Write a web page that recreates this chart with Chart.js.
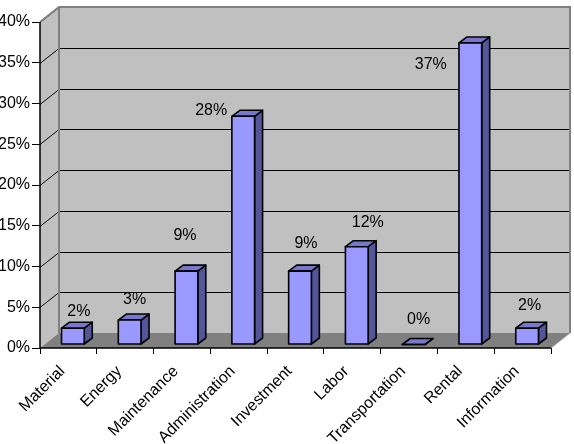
<!DOCTYPE html>
<html>
<head>
<meta charset="utf-8">
<script src="https://cdn.jsdelivr.net/npm/chart.js@4.4.1/dist/chart.umd.min.js"></script>
<style>
  html, body { margin: 0; padding: 0; background: #fff; }
  #wrap { width: 574px; height: 444px; }
</style>
</head>
<body>
<div id="wrap"><canvas id="chart"></canvas></div>
<script>
// chart data
const categories = ['Material', 'Energy', 'Maintenance', 'Administration', 'Investment',
  'Labor', 'Transportation', 'Rental', 'Information'];
const shares = [2, 3, 9, 28, 9, 12, 0, 37, 2];
const yTicks = [0, 5, 10, 15, 20, 25, 30, 35, 40];

// look of the fake 3D box and bars
const FONT = '16px "Liberation Sans", Arial, sans-serif';
const WALL_DX = 19, WALL_DY = -15;   // depth of walls / floor
const BAR_SHIFT_X = 4.5, BAR_SHIFT_Y = -3.5; // bars sit a bit into the floor
const BAR_DX = 8, BAR_DY = -6;       // depth of each bar
// where Excel put each value label, relative to the bar's top front centre
const labelNudge = [[6, -17], [5, -20.5], [-1.5, -36], [-32, -6], [6, -28],
  [11, -24.5], [5, -25], [-39.5, 21.5], [2.5, -22.5]];

Chart.defaults.font.family = '"Liberation Sans", Arial, sans-serif';
Chart.defaults.font.size = 16;
Chart.defaults.color = '#000';

const box3d = {
  id: 'box3d',
  beforeDatasetsDraw(chart) {
    const ctx = chart.ctx;
    const y = chart.scales.y;
    const L = chart.chartArea.left, R = chart.chartArea.right;
    const B = y.getPixelForValue(0), T = y.getPixelForValue(40);

    ctx.save();
    // left wall
    ctx.fillStyle = '#c0c0c0';
    ctx.beginPath();
    ctx.moveTo(L, B); ctx.lineTo(L, T);
    ctx.lineTo(L + WALL_DX, T + WALL_DY); ctx.lineTo(L + WALL_DX, B + WALL_DY);
    ctx.closePath(); ctx.fill();
    // back wall
    ctx.fillRect(L + WALL_DX, T + WALL_DY, R - L, B - T);
    // floor
    ctx.fillStyle = '#808080';
    ctx.beginPath();
    ctx.moveTo(L, B); ctx.lineTo(R, B);
    ctx.lineTo(R + WALL_DX, B + WALL_DY); ctx.lineTo(L + WALL_DX, B + WALL_DY);
    ctx.closePath(); ctx.fill();

    // gridlines on both walls
    ctx.strokeStyle = '#000';
    ctx.lineWidth = 1;
    yTicks.slice(1).forEach(v => {
      const py = Math.round(y.getPixelForValue(v)) + 0.5;
      ctx.beginPath();
      ctx.moveTo(L, py);
      ctx.lineTo(L + WALL_DX, py + WALL_DY);
      ctx.lineTo(R + WALL_DX, py + WALL_DY);
      ctx.stroke();
    });

    // wall outlines
    ctx.strokeStyle = '#808080';
    ctx.lineWidth = 2;
    ctx.beginPath();
    ctx.moveTo(L, T); ctx.lineTo(L + WALL_DX, T + WALL_DY);
    ctx.lineTo(R + WALL_DX, T + WALL_DY); ctx.lineTo(R + WALL_DX, B + WALL_DY);
    ctx.moveTo(L + WALL_DX, T + WALL_DY); ctx.lineTo(L + WALL_DX, B + WALL_DY);
    ctx.stroke();
    ctx.strokeStyle = '#a0a0a0';
    ctx.lineWidth = 1;
    ctx.beginPath();
    ctx.moveTo(R, B); ctx.lineTo(R + WALL_DX, B + WALL_DY);
    ctx.stroke();

    // front axis lines
    ctx.strokeStyle = '#000';
    ctx.lineWidth = 1.5;
    ctx.beginPath();
    ctx.moveTo(L, T); ctx.lineTo(L, B); ctx.lineTo(R, B);
    ctx.stroke();
    ctx.restore();
  },
  afterDatasetsDraw(chart) {
    const ctx = chart.ctx;
    const meta = chart.getDatasetMeta(0);
    ctx.save();
    ctx.lineWidth = 1.6;
    ctx.strokeStyle = '#000';
    ctx.lineJoin = 'round';
    meta.data.forEach((bar, i) => {
      const l = bar.x - bar.width / 2 + BAR_SHIFT_X;
      const r = bar.x + bar.width / 2 + BAR_SHIFT_X;
      const t = bar.y + BAR_SHIFT_Y;
      const b = bar.base + BAR_SHIFT_Y;
      // side face
      ctx.fillStyle = '#55559a';
      ctx.beginPath();
      ctx.moveTo(r, t); ctx.lineTo(r + BAR_DX, t + BAR_DY);
      ctx.lineTo(r + BAR_DX, b + BAR_DY); ctx.lineTo(r, b);
      ctx.closePath(); ctx.fill(); ctx.stroke();
      // top face
      ctx.fillStyle = '#7777cc';
      ctx.beginPath();
      ctx.moveTo(l, t); ctx.lineTo(r, t);
      ctx.lineTo(r + BAR_DX, t + BAR_DY); ctx.lineTo(l + BAR_DX, t + BAR_DY);
      ctx.closePath(); ctx.fill(); ctx.stroke();
      // front face
      ctx.fillStyle = '#9999ff';
      ctx.beginPath();
      ctx.rect(l, t, r - l, b - t);
      ctx.fill(); ctx.stroke();

      // value label
      const cx = (l + r) / 2;
      ctx.fillStyle = '#000';
      ctx.font = FONT;
      ctx.textAlign = 'center';
      ctx.textBaseline = 'middle';
      ctx.fillText(shares[i] + '%', cx + labelNudge[i][0], t + labelNudge[i][1]);
    });
    ctx.restore();
  }
};

new Chart(document.getElementById('chart'), {
  type: 'bar',
  data: {
    labels: categories,
    datasets: [{
      data: shares,
      backgroundColor: 'rgba(0,0,0,0)',
      borderWidth: 0,
      categoryPercentage: 1,
      barPercentage: 0.4
    }]
  },
  options: {
    responsive: true,
    maintainAspectRatio: false,
    animation: false,
    layout: { padding: { top: 22, right: 23, left: 0, bottom: 0 } },
    plugins: {
      legend: { display: false },
      tooltip: { enabled: false }
    },
    scales: {
      x: {
        afterFit: s => { s.height = 96; },
        border: { display: false },
        grid: { offset: true, drawOnChartArea: false, tickLength: 6, color: '#000' },
        ticks: { minRotation: 45, maxRotation: 45, padding: 8, labelOffset: -6, font: { size: 16 } }
      },
      y: {
        min: 0,
        max: 40,
        afterFit: s => { s.width = 40; },
        border: { display: false },
        grid: { drawOnChartArea: false, tickLength: 8, color: '#000' },
        ticks: {
          stepSize: 5,
          padding: 2,
          font: { size: 16 },
          callback: v => v + '%'
        }
      }
    }
  },
  plugins: [box3d]
});
</script>
</body>
</html>
